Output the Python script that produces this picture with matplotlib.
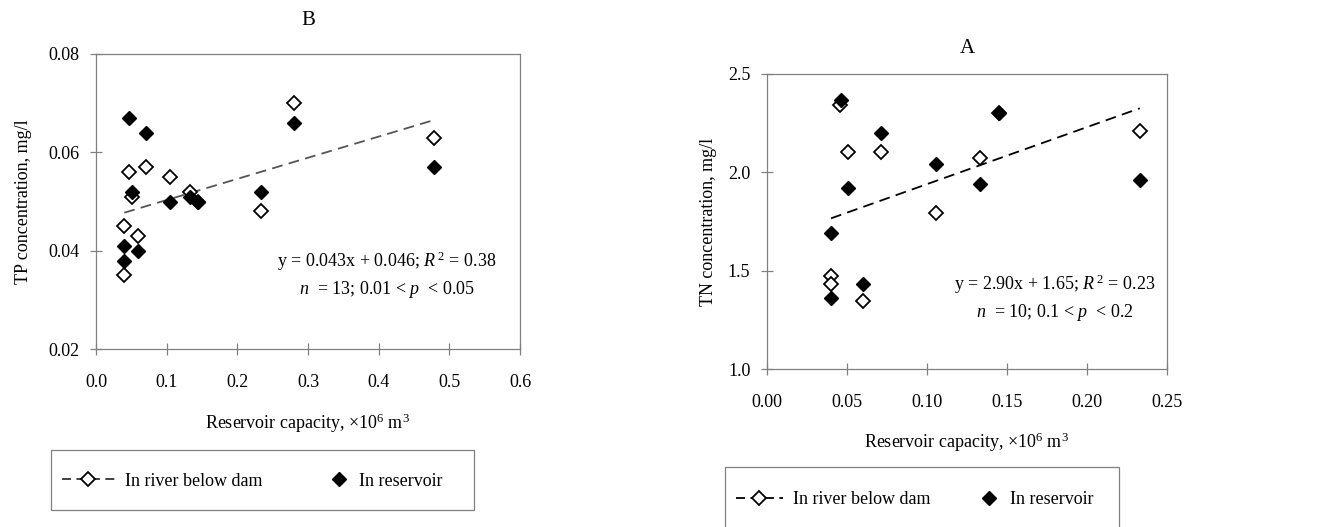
import matplotlib
matplotlib.use("Agg")
import matplotlib.pyplot as plt
from matplotlib.lines import Line2D
from matplotlib.patches import Rectangle
from matplotlib.legend_handler import HandlerLine2D

plt.rcParams['font.family'] = ['Liberation Serif', 'DejaVu Serif']
plt.rcParams['mathtext.fontset'] = 'custom'
plt.rcParams['mathtext.rm'] = 'Liberation Serif'
plt.rcParams['mathtext.it'] = 'Liberation Serif:italic'

# panel B - total phosphorus
tp_cap_river = [0.039, 0.039, 0.046, 0.0506, 0.060, 0.071, 0.105, 0.133, 0.145, 0.2336, 0.28, 0.479]
tp_river = [0.045, 0.035, 0.056, 0.051, 0.043, 0.057, 0.055, 0.052, 0.050, 0.048, 0.070, 0.063]
tp_cap_res = [0.039, 0.039, 0.046, 0.0506, 0.060, 0.071, 0.105, 0.133, 0.145, 0.2336, 0.28, 0.479]
tp_res = [0.041, 0.038, 0.067, 0.052, 0.040, 0.064, 0.050, 0.051, 0.050, 0.052, 0.066, 0.057]
tp_fit = (0.043, 0.046)          # slope, intercept
tp_fit_x = [0.04, 0.48]

# panel A - total nitrogen
tn_cap_river = [0.0398, 0.0398, 0.0456, 0.0504, 0.060, 0.0715, 0.1058, 0.133, 0.145, 0.2331]
tn_river = [1.474, 1.432, 2.341, 2.102, 1.344, 2.102, 1.792, 2.072, 2.300, 2.211]
tn_cap_res = [0.0398, 0.0398, 0.046, 0.0504, 0.060, 0.0712, 0.1058, 0.133, 0.145, 0.2331]
tn_res = [1.692, 1.362, 2.370, 1.921, 1.432, 2.200, 2.041, 1.941, 2.300, 1.960]
tn_fit = (2.90, 1.65)
tn_fit_x = [0.04, 0.233]

GRID = '#808080'
FS = 13
MS = 7


class RightMarker(HandlerLine2D):
    # put the single marker of the reservoir entry towards the right of the handle
    def __init__(self, frac, **kw):
        super().__init__(**kw)
        self.frac = frac

    def create_artists(self, legend, orig_handle, xdescent, ydescent, width, height, fontsize, trans):
        arts = super().create_artists(legend, orig_handle, xdescent, ydescent, width, height, fontsize, trans)
        for a in arts:
            if isinstance(a, Line2D):
                xd = list(a.get_xdata())
                if len(xd) == 3:
                    xd[1] = width * self.frac - xdescent
                elif len(xd) == 1:
                    xd[0] = width * self.frac - xdescent
                a.set_xdata(xd)
        return arts


def style_axes(ax, xlim, ylim, xticks, yticks, xfmt, yfmt):
    ax.set_xlim(*xlim)
    ax.set_ylim(*ylim)
    ax.set_xticks(xticks)
    ax.set_yticks(yticks)
    ax.set_xticklabels([xfmt.format(v) for v in xticks])
    ax.set_yticklabels([yfmt.format(v) for v in yticks])
    for s in ax.spines.values():
        s.set_color(GRID)
        s.set_linewidth(0.9)
    ax.tick_params(direction='inout', length=8, width=0.9, color=GRID, labelsize=FS, pad=8)
    ax.tick_params(axis='x', pad=14)


def draw_panel(ax, xr, yr, xs, ys, fit, fit_x, line_color):
    fy = [fit[0] * v + fit[1] for v in fit_x]
    ax.plot(fit_x, fy, color=line_color, lw=1.3, dashes=(6, 3.5), zorder=2)
    ax.plot(xr, yr, ls='none', marker='D', ms=MS, mfc='white', mec='black', mew=1.3, zorder=3)
    ax.plot(xs, ys, ls='none', marker='D', ms=MS, mfc='black', mec='black', mew=1.0, zorder=4)


fig = plt.figure(figsize=(13.25, 5.27), dpi=100)
W, H = 1325, 527

# left panel (B)
axB = fig.add_axes([96 / W, 1 - 349 / H, (520 - 96) / W, (349 - 54) / H])
draw_panel(axB, tp_cap_river, tp_river, tp_cap_res, tp_res, tp_fit, tp_fit_x, '#555555')
style_axes(axB, (0, 0.6), (0.02, 0.08), [0, 0.1, 0.2, 0.3, 0.4, 0.5, 0.6],
           [0.02, 0.04, 0.06, 0.08], '{:.1f}', '{:.2f}')
axB.set_title('B', fontsize=15, pad=21)
axB.set_xlabel('Reservoir capacity, ×10$^{6}$ m$^{3}$', fontsize=FS, labelpad=15)
axB.set_ylabel('TP concentration, mg/l', fontsize=FS, labelpad=12)
axB.text(0.686, 0.25, 'y = 0.043x + 0.046; $R^{\\,2}$ = 0.38\n$n$  = 13; 0.01 < $p$  < 0.05',
         transform=axB.transAxes, ha='center', va='center', fontsize=FS, linespacing=1.4)

# right panel (A)
axA = fig.add_axes([767 / W, 1 - 369 / H, (1167 - 767) / W, (369 - 74) / H])
draw_panel(axA, tn_cap_river, tn_river, tn_cap_res, tn_res, tn_fit, tn_fit_x, 'black')
style_axes(axA, (0, 0.25), (1.0, 2.5), [0, 0.05, 0.10, 0.15, 0.20, 0.25],
           [1.0, 1.5, 2.0, 2.5], '{:.2f}', '{:.1f}')
axA.set_title('A', fontsize=15, pad=15)
axA.set_xlabel('Reservoir capacity, ×10$^{6}$ m$^{3}$', fontsize=FS, labelpad=14)
axA.set_ylabel('TN concentration, mg/l', fontsize=FS, labelpad=8)
axA.text(0.72, 0.24, 'y = 2.90x + 1.65; $R^{\\,2}$ = 0.23\n$n$  = 10; 0.1 < $p$  < 0.2',
         transform=axA.transAxes, ha='center', va='center', fontsize=FS, linespacing=1.4)

# legends with square grey frames
legend_specs = [
    # frame x0, y0, x1, y1, handle start, text centre y, handle length, col spacing, marker pos, line colour
    (51, 450, 474, 510, 62, 481, 2.93, 1.9, 0.8, '#333333'),
    (725, 467, 1119, 545, 736, 500, 2.6, 1.27, 0.75, 'black'),
]
for (x0, y0, x1, y1, hx, ty, hl, cs, mpos, lc) in legend_specs:
    fig.add_artist(Rectangle((x0 / W, 1 - y1 / H), (x1 - x0) / W, (y1 - y0) / H,
                             transform=fig.transFigure, fill=False, edgecolor=GRID, lw=0.9))
    h1 = Line2D([], [], color=lc, lw=1.3, dashes=(5, 3), marker='D', ms=MS,
                mfc='white', mec='black', mew=1.3)
    h2 = Line2D([], [], ls='none', marker='D', ms=MS, mfc='black', mec='black')
    fig.legend([h1, h2], ['In river below dam', 'In reservoir'], ncol=2, frameon=False,
               loc='center left', bbox_to_anchor=(hx / W, 1 - ty / H),
               fontsize=FS, handlelength=hl, handletextpad=0.55, columnspacing=cs,
               borderaxespad=0, borderpad=0, numpoints=1,
               handler_map={h2: RightMarker(mpos, numpoints=1)})

fig.savefig('out.png', dpi=100)
